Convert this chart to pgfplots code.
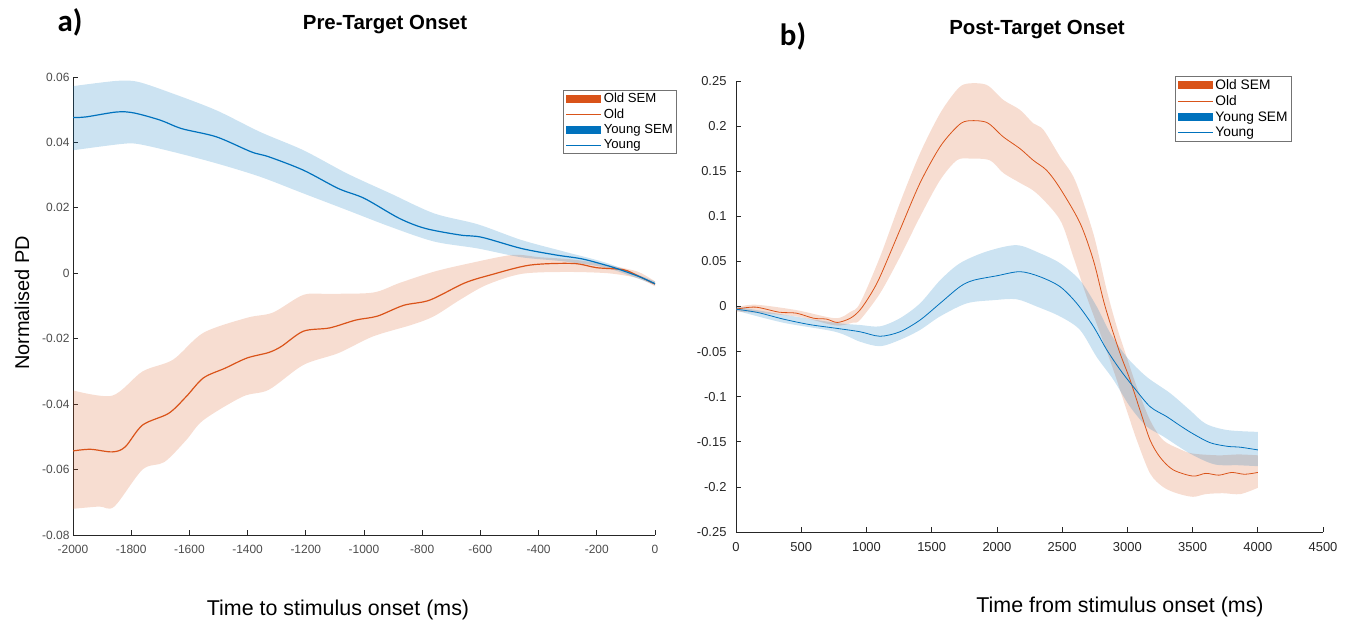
\documentclass[border=0pt]{standalone}
\usepackage{pgfplots}
\pgfplotsset{compat=1.18}
\usepgfplotslibrary{fillbetween}
\usepackage{fontspec}
\setmainfont{Liberation Sans}
\newfontfamily\panelfont{Carlito}

\definecolor{oldc}{HTML}{D95319}
\definecolor{youngc}{HTML}{0072BD}

\pgfplotsset{
  pdaxis/.style={
    scale only axis, enlargelimits=false,
    scaled x ticks=false, scaled y ticks=false,
    axis lines=left, axis line style={-, draw=black!85, line width=0.7bp},
    tick align=inside, major tick length=5bp,
    tick style={draw=black!85, line width=0.7bp},
    legend cell align=left,
    legend style={draw=black!55, line width=0.7bp, fill=white,
      inner xsep=2bp, inner ysep=1.5bp, row sep=1.6bp,
      nodes={inner ysep=1.5bp, inner xsep=2bp}},
  },
  semleg/.style={legend image code/.code={\fill[fill=#1, draw=none] (0bp,-4bp) rectangle (35bp,4bp);}},
  lineleg/.style={legend image code/.code={\draw[draw=#1, line width=1bp] (0bp,0bp) -- (35bp,0bp);}},
}

\begin{document}
\begin{tikzpicture}[x=1bp,y=1bp]

% ---------------- a) pre-target onset ----------------
\begin{axis}[pdaxis,
  at={(73bp,88bp)}, anchor=south west, width=582bp, height=458bp,
  xmin=-2000, xmax=0, ymin=-0.08, ymax=0.06,
  xtick={-2000,-1800,-1600,-1400,-1200,-1000,-800,-600,-400,-200,0},
  xticklabels={-2000,-1800,-1600,-1400,-1200,-1000,-800,-600,-400,-200,0},
  ytick={-0.08,-0.06,-0.04,-0.02,0,0.02,0.04,0.06},
  yticklabels={-0.08,-0.06,-0.04,-0.02,0,0.02,0.04,0.06},
  ticklabel style={font=\fontsize{12}{14}\selectfont, text=black!70},
  xticklabel style={yshift=-7bp},
  legend style={at={(1.038,0.9716)}, anchor=north east, font=\fontsize{13.2}{13.5}\selectfont},
]
% Old: SEM band and mean
\addplot[name path=oau, draw=none, smooth, forget plot] coordinates {
(-2000,-0.0358) (-1865,-0.0374) (-1761,-0.030) (-1656,-0.0264) (-1552,-0.0182)
(-1402,-0.0136) (-1313,-0.012) (-1208,-0.0066) (-1118,-0.0063) (-969,-0.0059)
(-879,-0.003) (-759,0.0005) (-640,0.003) (-490,0.0056) (-395,0.0049)
(-281,0.0042) (-161,0.0025) (-60,0.0005) (0,-0.0025)};
\addplot[name path=oal, draw=none, smooth, forget plot] coordinates {
(-2000,-0.072) (-1910,-0.0713) (-1858,-0.0713) (-1761,-0.060) (-1686,-0.0577)
(-1611,-0.051) (-1552,-0.0449) (-1417,-0.0377) (-1327,-0.0356) (-1208,-0.028)
(-1088,-0.0244) (-969,-0.0193) (-834,-0.0157) (-759,-0.0131) (-670,-0.0081)
(-580,-0.0036) (-460,-0.0002) (-311,0.0004) (-161,0.0) (-60,-0.0015) (0,-0.004)};
\addplot[oldc, fill opacity=0.2, draw=none, forget plot] fill between[of=oau and oal];
\addplot[oldc, line width=1.2bp, smooth, forget plot] coordinates {
(-2000,-0.0543) (-1940,-0.0538) (-1865,-0.0546) (-1821,-0.0531) (-1761,-0.0464)
(-1671,-0.0428) (-1611,-0.0377) (-1552,-0.032) (-1477,-0.029) (-1402,-0.0259)
(-1327,-0.0242) (-1283,-0.0223) (-1208,-0.0177) (-1118,-0.0167) (-1028,-0.0143)
(-954,-0.0131) (-864,-0.0098) (-774,-0.0082) (-655,-0.003) (-565,-0.0005)
(-430,0.0025) (-281,0.003) (-200,0.0017) (-109,0.0011) (-63,-0.0006) (0,-0.0033)};
% Young: SEM band and mean
\addplot[name path=yau, draw=none, smooth, forget plot] coordinates {
(-2000,0.0572) (-1851,0.0588) (-1776,0.0585) (-1656,0.0549) (-1507,0.0498)
(-1357,0.0432) (-1208,0.0376) (-1058,0.0305) (-909,0.0244) (-759,0.0183)
(-610,0.015) (-460,0.0102) (-311,0.0066) (-161,0.003) (0,-0.0025)};
\addplot[name path=yal, draw=none, smooth, forget plot] coordinates {
(-2000,0.0376) (-1836,0.0395) (-1776,0.0395) (-1656,0.0371) (-1507,0.0336)
(-1357,0.0295) (-1208,0.0244) (-1058,0.0193) (-909,0.0142) (-759,0.0097)
(-610,0.0076) (-460,0.0049) (-311,0.0036) (-161,0.0015) (0,-0.0036)};
\addplot[youngc, fill opacity=0.2, draw=none, forget plot] fill between[of=yau and yal];
\addplot[youngc, line width=1.2bp, smooth, forget plot] coordinates {
(-2000,0.0476) (-1955,0.0478) (-1850,0.0493) (-1790,0.049) (-1700,0.0468)
(-1626,0.0442) (-1507,0.0417) (-1387,0.0371) (-1327,0.0356) (-1208,0.0315)
(-1088,0.0259) (-999,0.0229) (-879,0.0168) (-789,0.0137) (-670,0.0117)
(-595,0.011) (-460,0.0076) (-341,0.0056) (-251,0.0044) (-166,0.0024)
(-120,0.0011) (-52,-0.0011) (0,-0.0032)};
\addlegendimage{semleg=oldc}\addlegendentry{Old SEM}
\addlegendimage{lineleg=oldc}\addlegendentry{Old}
\addlegendimage{semleg=youngc}\addlegendentry{Young SEM}
\addlegendimage{lineleg=youngc}\addlegendentry{Young}
\end{axis}

% ---------------- b) post-target onset ----------------
\begin{axis}[pdaxis,
  at={(736bp,91bp)}, anchor=south west, width=587bp, height=451bp,
  xmin=0, xmax=4500, ymin=-0.25, ymax=0.25,
  xtick={0,500,1000,1500,2000,2500,3000,3500,4000,4500},
  xticklabels={0,500,1000,1500,2000,2500,3000,3500,4000,4500},
  ytick={-0.25,-0.2,-0.15,-0.1,-0.05,0,0.05,0.1,0.15,0.2,0.25},
  yticklabels={-0.25,-0.2,-0.15,-0.1,-0.05,0,0.05,0.1,0.15,0.2,0.25},
  ticklabel style={font=\fontsize{13}{15}\selectfont, text=black!85},
  xticklabel style={yshift=-7bp},
  yticklabel style={xshift=-6bp},
  legend style={at={(0.947,1.011)}, anchor=north east, font=\fontsize{13.8}{14}\selectfont},
]
% Old: SEM band and mean
\addplot[name path=obu, draw=none, smooth, forget plot] coordinates {
(0,-0.001) (149,0.002) (463,-0.004) (760,-0.013) (876,-0.006) (950,0.0035)
(1104,0.055) (1257,0.115) (1411,0.170) (1564,0.214) (1692,0.240) (1769,0.247)
(1922,0.2456) (2049,0.229) (2177,0.218) (2279,0.203) (2356,0.196) (2484,0.166)
(2599,0.140) (2739,0.081) (2842,0.018) (2918,-0.022) (2995,-0.056) (3072,-0.089)
(3174,-0.126) (3273,-0.148) (3400,-0.158) (3500,-0.163) (3700,-0.165) (3850,-0.164) (4000,-0.165)};
\addplot[name path=obl, draw=none, smooth, forget plot] coordinates {
(0,-0.0055) (463,-0.011) (760,-0.021) (892,-0.018) (950,-0.015) (1104,0.0146)
(1257,0.055) (1411,0.0996) (1564,0.140) (1692,0.162) (1794,0.164) (1947,0.162)
(2049,0.148) (2177,0.137) (2305,0.1255) (2484,0.096) (2586,0.055) (2688,0.011)
(2790,-0.029) (2892,-0.070) (2995,-0.115) (3072,-0.148) (3174,-0.185) (3273,-0.200)
(3378,-0.207) (3502,-0.211) (3601,-0.208) (3733,-0.207) (3866,-0.208) (4000,-0.201)};
\addplot[oldc, fill opacity=0.2, draw=none, forget plot] fill between[of=obu and obl];
\addplot[oldc, line width=0.8bp, smooth, forget plot] coordinates {
(0,-0.003) (149,-0.0007) (330,-0.0063) (463,-0.0074) (595,-0.013) (694,-0.014)
(777,-0.0177) (876,-0.013) (950,-0.004) (1030,0.013) (1104,0.033) (1257,0.085)
(1411,0.137) (1564,0.177) (1692,0.199) (1769,0.2056) (1922,0.204) (2049,0.188)
(2177,0.175) (2279,0.162) (2381,0.151) (2484,0.131) (2637,0.0926) (2739,0.0515)
(2816,0.0072) (2867,-0.018) (2944,-0.052) (3020,-0.081) (3097,-0.115) (3174,-0.148)
(3250,-0.167) (3350,-0.181) (3502,-0.188) (3601,-0.185) (3701,-0.187) (3800,-0.184)
(3899,-0.186) (4000,-0.184)};
% Young: SEM band and mean
\addplot[name path=ybu, draw=none, smooth, forget plot] coordinates {
(0,0.0) (363,-0.009) (760,-0.018) (950,-0.0205) (1104,-0.022) (1257,-0.013)
(1411,0.0035) (1564,0.029) (1717,0.048) (1922,0.061) (2151,0.068) (2330,0.059)
(2484,0.048) (2637,0.029) (2765,0.0) (2867,-0.029) (2995,-0.056) (3148,-0.078)
(3327,-0.096) (3480,-0.115) (3601,-0.130) (3766,-0.137) (4000,-0.139)};
\addplot[name path=ybl, draw=none, smooth, forget plot] coordinates {
(0,-0.0045) (363,-0.018) (760,-0.028) (950,-0.039) (1104,-0.044) (1257,-0.037)
(1411,-0.026) (1564,-0.011) (1769,0.0035) (1973,0.007) (2151,0.008) (2305,0.0)
(2484,-0.011) (2637,-0.026) (2765,-0.056) (2892,-0.081) (3020,-0.111) (3148,-0.133)
(3275,-0.144) (3480,-0.163) (3667,-0.175) (3850,-0.176) (4000,-0.177)};
\addplot[youngc, fill opacity=0.2, draw=none, forget plot] fill between[of=ybu and ybl];
\addplot[youngc, line width=0.8bp, smooth, forget plot] coordinates {
(0,-0.003) (165,-0.0066) (363,-0.014) (562,-0.02) (760,-0.024) (950,-0.028)
(1104,-0.033) (1257,-0.028) (1411,-0.015) (1564,0.0035) (1717,0.022) (1819,0.029)
(1998,0.034) (2177,0.0386) (2330,0.033) (2484,0.022) (2612,0.0035) (2739,-0.022)
(2842,-0.048) (2944,-0.070) (3046,-0.089) (3174,-0.111) (3301,-0.122) (3403,-0.132)
(3502,-0.141) (3634,-0.151) (3766,-0.155) (3866,-0.156) (4000,-0.159)};
\addlegendimage{semleg=oldc}\addlegendentry{Old SEM}
\addlegendimage{lineleg=oldc}\addlegendentry{Old}
\addlegendimage{semleg=youngc}\addlegendentry{Young SEM}
\addlegendimage{lineleg=youngc}\addlegendentry{Young}
\end{axis}

% panel letters, titles and axis labels
\node[font=\panelfont\bfseries\fontsize{31}{34}\selectfont] at (70,601) {a)};
\node[font=\bfseries\fontsize{20.5}{23}\selectfont] at (385,598) {Pre-Target Onset};
\node[font=\panelfont\bfseries\fontsize{31}{34}\selectfont] at (793,587) {b)};
\node[font=\bfseries\fontsize{20.5}{23}\selectfont] at (1037,593) {Post-Target Onset};
\node[font=\fontsize{20}{23}\selectfont, rotate=90] at (22,320) {Normalised PD};
\node[font=\fontsize{21.5}{24}\selectfont] at (338,13) {Time to stimulus onset (ms)};
\node[font=\fontsize{21.5}{24}\selectfont] at (1120,16) {Time from stimulus onset (ms)};
\pgfresetboundingbox
\path[use as bounding box] (0,0) rectangle (1354,623);
\end{tikzpicture}
\end{document}
